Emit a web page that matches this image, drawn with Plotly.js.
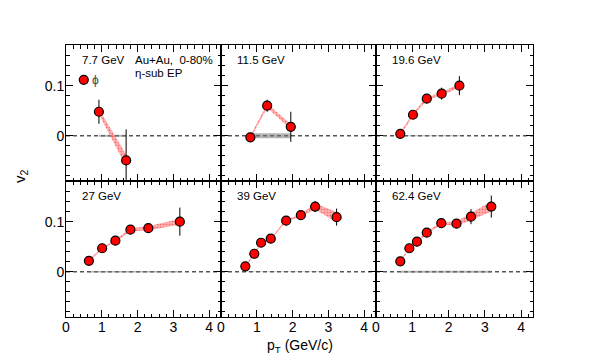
<!DOCTYPE html>
<html>
<head>
<meta charset="utf-8">
<script src="https://cdn.plot.ly/plotly-3.0.1.min.js"></script>
<style>html,body{margin:0;padding:0;background:#fff;}#plot{width:600px;height:363px;}</style>
</head>
<body>
<div id="plot"></div>
<script>
// ---- data ----
const energies = ['7.7 GeV', '11.5 GeV', '19.6 GeV', '27 GeV', '39 GeV', '62.4 GeV'];

const pt_7 = [0.92, 1.68];
const v2_7 = [0.048, -0.049];
const stat_7 = [0.024, 0.062];
const sys_7 = [0.005, 0.012];

const pt_11 = [0.82, 1.29, 1.95];
const v2_11 = [-0.003, 0.060, 0.018];
const stat_11 = [0.005, 0.012, 0.030];
const sys_11 = [0.003, 0.004, 0.005];

const pt_19 = [0.67, 1.02, 1.40, 1.81, 2.30];
const v2_19 = [0.004, 0.042, 0.074, 0.084, 0.100];
const stat_19 = [0.004, 0.004, 0.005, 0.012, 0.019];
const sys_19 = [0.003, 0.003, 0.003, 0.003, 0.004];

const pt_27 = [0.64, 1.01, 1.38, 1.80, 2.30, 3.18];
const v2_27 = [0.022, 0.047, 0.062, 0.084, 0.087, 0.100];
const stat_27 = [0.003, 0.004, 0.004, 0.005, 0.009, 0.028];
const sys_27 = [0.002, 0.002, 0.002, 0.003, 0.004, 0.006];

const pt_39 = [0.68, 0.93, 1.12, 1.39, 1.82, 2.23, 2.63, 3.23];
const v2_39 = [0.011, 0.036, 0.058, 0.066, 0.102, 0.113, 0.130, 0.109];
const stat_39 = [0.003, 0.004, 0.004, 0.004, 0.004, 0.005, 0.011, 0.017];
const sys_39 = [0.002, 0.002, 0.002, 0.002, 0.002, 0.002, 0.006, 0.010];

const pt_62 = [0.67, 0.92, 1.13, 1.40, 1.80, 2.22, 2.62, 3.18];
const v2_62 = [0.021, 0.047, 0.060, 0.078, 0.097, 0.096, 0.110, 0.130];
const stat_62 = [0.003, 0.004, 0.004, 0.004, 0.005, 0.006, 0.015, 0.022];
const sys_62 = [0.002, 0.002, 0.002, 0.002, 0.003, 0.004, 0.007, 0.010];

// grey band at v2 = 0 (half-height per panel)
const zeroBand = [0.002, 0.005, 0.001, 0.0015, 0.0005, 0.002];

const xTicks = [0, 1, 2, 3, 4];
const yTicks = [0, 0.1];

const panels = [
  [pt_7, v2_7, stat_7, sys_7],
  [pt_11, v2_11, stat_11, sys_11],
  [pt_19, v2_19, stat_19, sys_19],
  [pt_27, v2_27, stat_27, sys_27],
  [pt_39, v2_39, stat_39, sys_39],
  [pt_62, v2_62, stat_62, sys_62]
];

// ---- layout geometry ----
const W = 600, H = 363;
const colPx = [[66, 221], [221, 376], [376, 533]];
const rowPx = [[45, 181], [181, 317]];
const xRange = [0, 4.33];
const yRange = [-0.09, 0.181];

const traces = [];
const layout = {
  width: W, height: H,
  margin: {l: 0, r: 0, t: 0, b: 0},
  paper_bgcolor: '#fff', plot_bgcolor: '#fff',
  font: {family: 'Liberation Sans, Arial, sans-serif', color: '#000'},
  showlegend: true,
  legend: {x: 0.1063, y: 0.78, xanchor: 'left', yanchor: 'middle', bgcolor: 'rgba(0,0,0,0)',
           font: {size: 13}, itemwidth: 30, tracegroupgap: 0},
  shapes: [], annotations: []
};

const bandPattern = {shape: '.', fgcolor: 'rgba(255,40,40,0.55)', bgcolor: 'rgba(255,140,140,0.6)', size: 3, solidity: 0.35};

panels.forEach((p, i) => {
  const [pt, v2, st, sy] = p;
  const r = Math.floor(i / 3), c = i % 3;
  const n = i + 1;
  const xa = 'x' + (n === 1 ? '' : n), ya = 'y' + (n === 1 ? '' : n);
  const xk = 'xaxis' + (n === 1 ? '' : n), yk = 'yaxis' + (n === 1 ? '' : n);

  layout[xk] = {
    domain: [colPx[c][0] / W, colPx[c][1] / W], anchor: ya,
    range: xRange, tickvals: xTicks, ticks: 'inside', ticklen: 7, tickcolor: '#000',
    minor: {dtick: 0.2, ticks: 'inside', ticklen: 3.5, tickcolor: '#000', showgrid: false},
    showline: true, linecolor: '#000', linewidth: 1, mirror: 'allticks',
    showgrid: false, zeroline: false, showticklabels: r === 1, ticklabelstandoff: -3,
    tickfont: {size: 14, color: '#000'}, fixedrange: true
  };
  layout[yk] = {
    domain: [(H - rowPx[r][1]) / H, (H - rowPx[r][0]) / H], anchor: xa,
    range: yRange, tickvals: yTicks, ticktext: yTicks.map(String), ticks: 'inside', ticklen: 7, tickcolor: '#000',
    minor: {dtick: 0.02, tick0: 0, ticks: 'inside', ticklen: 3.5, tickcolor: '#000', showgrid: false},
    showline: true, linecolor: '#000', linewidth: 1, mirror: 'allticks',
    showgrid: false, zeroline: false, showticklabels: c === 0, ticklabelstandoff: -2,
    tickfont: {size: 14, color: '#000'}, fixedrange: true
  };

  // grey band at zero
  const zx = [pt[0], pt[pt.length - 1]];
  traces.push({x: zx, y: zx.map(() => zeroBand[i]), xaxis: xa, yaxis: ya, mode: 'lines',
               line: {width: 0}, showlegend: false, hoverinfo: 'skip'});
  traces.push({x: zx, y: zx.map(() => -zeroBand[i]), xaxis: xa, yaxis: ya, mode: 'lines',
               line: {width: 0}, fill: 'tonexty', fillcolor: 'rgba(120,120,120,0.55)', showlegend: false, hoverinfo: 'skip'});

  // systematic band
  traces.push({x: pt, y: v2.map((v, k) => v + sy[k]), xaxis: xa, yaxis: ya, mode: 'lines',
               line: {width: 0}, showlegend: false, hoverinfo: 'skip'});
  traces.push({x: pt, y: v2.map((v, k) => v - sy[k]), xaxis: xa, yaxis: ya, mode: 'lines',
               line: {width: 0}, fill: 'tonexty', fillcolor: 'rgba(255,120,120,0.6)', fillpattern: bandPattern,
               showlegend: false, hoverinfo: 'skip'});

  // data points with statistical errors
  traces.push({x: pt, y: v2, xaxis: xa, yaxis: ya, mode: 'markers', name: 'ϕ', showlegend: false,
               marker: {color: '#ff0000', size: 9, line: {color: '#000', width: 1.2}},
               error_y: {type: 'data', array: st, visible: true, color: '#000', thickness: 1, width: 0}});

  // dashed zero line
  layout.shapes.push({type: 'line', xref: xa + ' domain', yref: ya, x0: 0, x1: 1, y0: 0, y1: 0,
                      line: {color: '#000', width: 1, dash: '4px,3px'}, layer: 'below'});

  // energy label
  layout.annotations.push({text: energies[i], xref: xa + ' domain', yref: ya + ' domain',
                           x: 0.09, y: 0.945, xanchor: 'left', yanchor: 'top', showarrow: false,
                           font: {size: 11.5, color: '#000'}});
});

// legend-only entry for the phi marker (its label is drawn as an annotation right next to it)
traces.push({x: [null], y: [null], mode: 'markers', name: ' ', showlegend: true,
             marker: {color: '#ff0000', size: 9, line: {color: '#000', width: 1.2}}});

layout.annotations.push({text: 'ϕ', xref: 'paper', yref: 'paper', x: 90 / W, y: 1 - 80 / H,
                         xanchor: 'left', yanchor: 'middle', showarrow: false, font: {size: 12, color: '#444'}});
layout.annotations.push({text: 'Au+Au,  0-80%', xref: 'x domain', yref: 'y domain', x: 0.43, y: 0.945,
                         xanchor: 'left', yanchor: 'top', showarrow: false, font: {size: 11.5}});
layout.annotations.push({text: 'η-sub EP', xref: 'x domain', yref: 'y domain', x: 0.43, y: 0.855,
                         xanchor: 'left', yanchor: 'top', showarrow: false, font: {size: 11.5}});
layout.annotations.push({text: 'v<sub>2</sub>', xref: 'paper', yref: 'paper', x: 20 / W, y: 1 - 176 / H,
                         xanchor: 'center', yanchor: 'middle',
                         textangle: -90, showarrow: false, font: {size: 15}});
layout.annotations.push({text: 'p<sub>T</sub> (GeV/c)', xref: 'paper', yref: 'paper', x: 300 / W, y: 1 - 346 / H,
                         xanchor: 'center', yanchor: 'middle',
                         showarrow: false, font: {size: 14}});

Plotly.newPlot('plot', traces, layout, {staticPlot: true, displayModeBar: false});
</script>
</body>
</html>
